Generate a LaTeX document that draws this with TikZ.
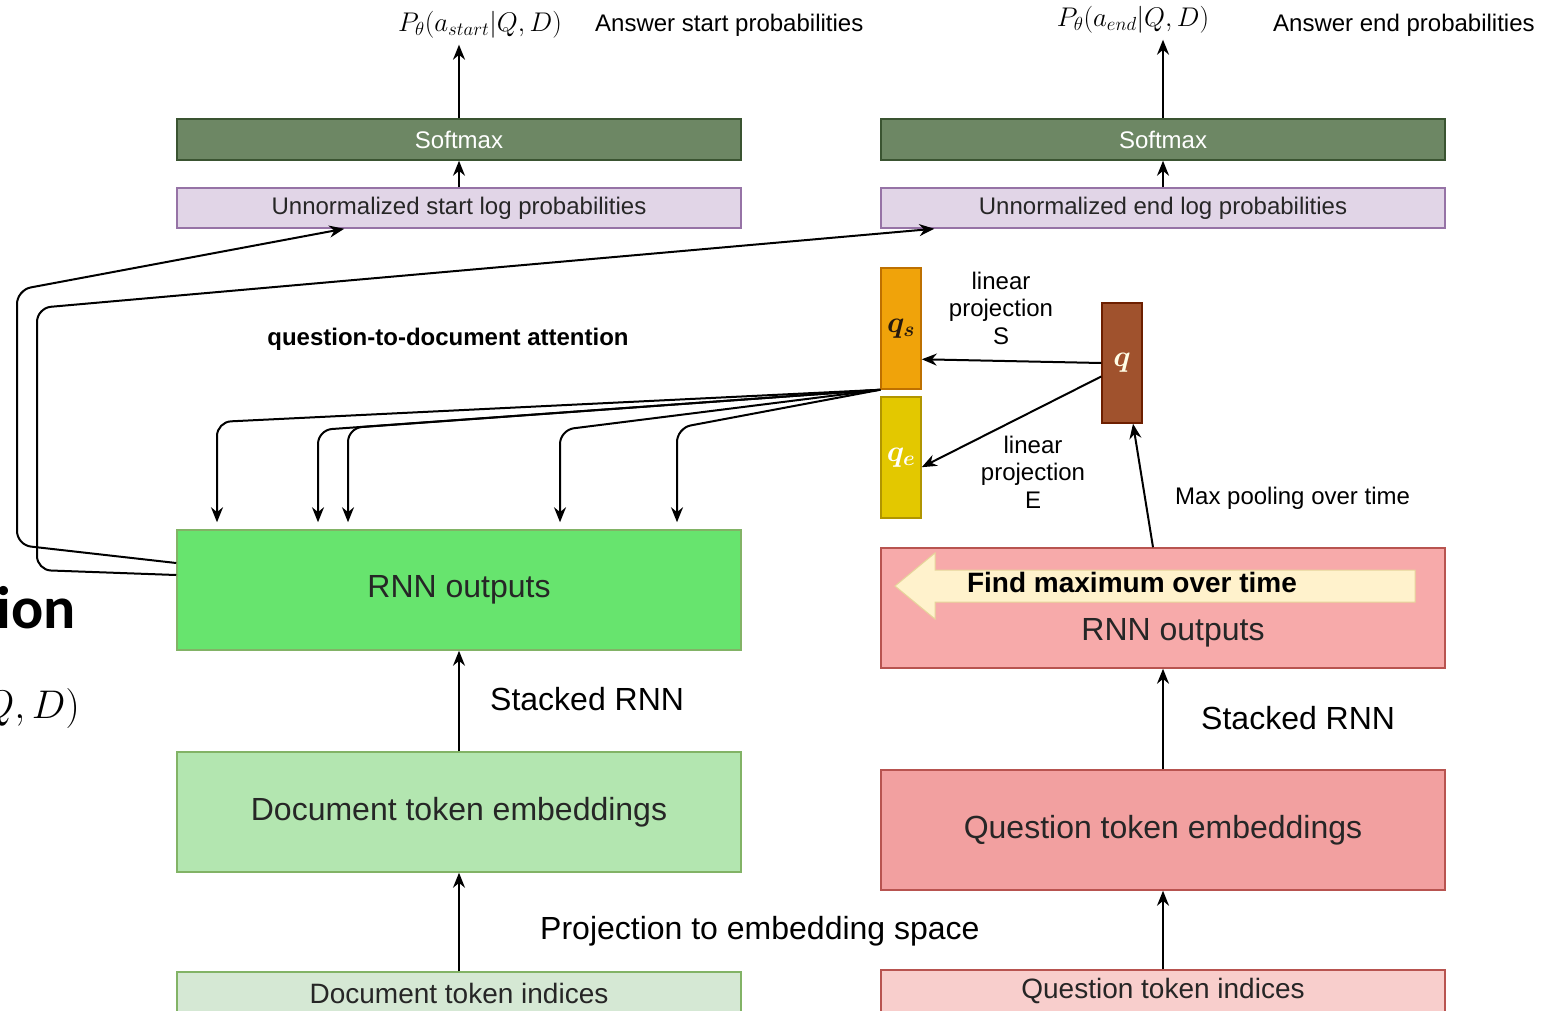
\documentclass[tikz,border=0pt]{standalone}
\usepackage{fix-cm}
\usepackage{fontspec}
\setmainfont{Liberation Sans}
\newfontfamily\slidefont{Carlito}
\usepackage{amsmath, amssymb}
\usepackage{tikz}
\usetikzlibrary{arrows.meta, positioning}
\definecolor{softfill}{HTML}{6D8764}
\definecolor{softline}{HTML}{3A5431}
\definecolor{logfill}{HTML}{E1D5E7}
\definecolor{logline}{HTML}{9673A6}
\definecolor{docline}{HTML}{82B366}
\definecolor{docout}{HTML}{67E46E}
\definecolor{docemb}{HTML}{B3E6B0}
\definecolor{docidx}{HTML}{D5E8D4}
\definecolor{qline}{HTML}{B85450}
\definecolor{qout}{HTML}{F7AAAA}
\definecolor{qemb}{HTML}{F2A0A0}
\definecolor{qidx}{HTML}{F8CECC}
\definecolor{qsfill}{HTML}{F0A30A}
\definecolor{qsline}{HTML}{BD7000}
\definecolor{qefill}{HTML}{E3C800}
\definecolor{qeline}{HTML}{B09500}
\definecolor{qfill}{HTML}{A0522D}
\definecolor{qvline}{HTML}{6D1F00}
\definecolor{findfill}{HTML}{FFF2CC}
\definecolor{findline}{HTML}{E6D49A}
\tikzset{
  layerbox/.style 2 args={rectangle, draw=#1, fill=#2, line width=1.5pt,
              minimum width=564pt, inner sep=0pt, text=black!85},
  vecbox/.style 2 args={rectangle, draw=#1, fill=#2, line width=1.5pt,
              minimum width=40pt, minimum height=121pt, inner sep=0pt,
              font=\fontsize{30}{34}\selectfont},
  arrow/.style={-{Stealth[length=15pt,width=12pt]}, line width=2pt},
  lbl/.style={font=\fontsize{24}{27.5}\selectfont, inner sep=0pt, align=center},
  midlbl/.style={font=\fontsize{28}{32}\selectfont, inner sep=0pt},
  biglbl/.style={font=\fontsize{32}{38}\selectfont, inner sep=0pt},
  mathlbl/.style={font=\fontsize{27}{30}\selectfont, inner sep=0pt},
}
\begin{document}
\begin{tikzpicture}[x=1pt, y=-1pt]
\useasboundingbox (0,0) rectangle (1565,1010);
% cut-off slide text on the left
\node[font=\slidefont\bfseries\fontsize{60}{70}\selectfont, anchor=base east, inner sep=0pt] (slidetitle) at (76,628) {ion};
\node[font=\fontsize{40}{48}\selectfont, anchor=base east, inner sep=0pt] (slidemath) at (80,718) {$Q,D)$};

% document side
\node[layerbox={softline}{softfill}, minimum height=41pt, lbl, text=white] (softL) at (459,139.5) {Softmax};
\node[layerbox={logline}{logfill}, minimum height=40pt, lbl] (unL) at (459,208) {Unnormalized start log probabilities};
\node[layerbox={docline}{docout}, minimum height=120pt, biglbl] (rnnL) at (459,590) {RNN outputs};
\node[layerbox={docline}{docemb}, minimum height=120pt, biglbl] (embL) at (459,812) {Document token embeddings};
\node[layerbox={docline}{docidx}, minimum height=42pt, midlbl] (idxL) at (459,993) {Document token indices};

% question side
\node[layerbox={softline}{softfill}, minimum height=41pt, lbl, text=white] (softR) at (1163,139.5) {Softmax};
\node[layerbox={logline}{logfill}, minimum height=40pt, lbl] (unR) at (1163,208) {Unnormalized end log probabilities};
\node[layerbox={qline}{qout}, minimum height=120pt] (rnnR) at (1163,608) {};
\draw[findline, fill=findfill, line width=1pt] (1415,570) -- (935,570) -- (935,553) -- (895,586)
  -- (935,619) -- (935,602) -- (1415,602) -- cycle;
\node[midlbl, font=\bfseries\fontsize{28}{32}\selectfont] (findtxt) at (1132,582) {Find maximum over time};
\node[biglbl, text=black!85] (rnnRtxt) at (1173,633) {RNN outputs};
\node[layerbox={qline}{qemb}, minimum height=120pt, biglbl] (embR) at (1163,830) {Question token embeddings};
\node[layerbox={qline}{qidx}, minimum height=42pt, midlbl] (idxR) at (1163,991) {Question token indices};

% question vectors
\node[vecbox={qsline}{qsfill}, text=black!80!brown] (qs) at (901,328.5) {$\boldsymbol{q_s}$};
\node[vecbox={qeline}{qefill}, text=white] (qe) at (901,457.5) {$\boldsymbol{q_e}$};
\node[vecbox={qvline}{qfill}, minimum height=120pt, text=white!90!yellow] (q) at (1122,363) {$\boldsymbol{q}$};

% outputs
\node[mathlbl] (PL) at (480,25) {$P_\theta(a_{start}|Q,D)$};
\node[mathlbl] (PR) at (1133,20) {$P_\theta(a_{end}|Q,D)$};
\node[lbl, anchor=west] (ansL) at (595,25) {Answer start probabilities};
\node[lbl, anchor=west] (ansR) at (1273,25) {Answer end probabilities};

% edge labels
\node[lbl, font=\bfseries\fontsize{24}{27.5}\selectfont] (attn) at (448,339) {question-to-document attention};
\node[lbl] (linS) at (1001,308) {linear\\projection\\S};
\node[lbl] (linE) at (1033,472) {linear\\projection\\E};
\node[lbl, anchor=west] (maxpool) at (1175,498) {Max pooling over time};
\node[biglbl, anchor=west] (stackL) at (490,699) {Stacked RNN};
\node[biglbl, anchor=west] (stackR) at (1201,718) {Stacked RNN};
\node[biglbl, anchor=west] (proj) at (540,931) {Projection to embedding space};

% vertical flow
\draw[arrow] (idxL) -- (embL);
\draw[arrow] (embL) -- (rnnL);
\draw[arrow] (unL) -- (softL);
\draw[arrow, shorten >=6pt] (softL.north) -- (softL.north |- PL.south);
\draw[arrow] (idxR) -- (embR);
\draw[arrow] (embR) -- (rnnR);
\draw[arrow] (unR) -- (softR);
\draw[arrow, shorten >=6pt] (softR.north) -- (softR.north |- PR.south);

% question vector and projections
\draw[arrow] ([xshift=-10pt]rnnR.north) -- ([xshift=11pt]q.south);
\draw[arrow] (q.west) -- (qs.-56);
\draw[arrow] (q.213) -- (qe.-25);

% attention onto the document outputs
\foreach \x/\y in {217/422, 318/430, 348/428, 560/430, 677/428}
  \draw[arrow, rounded corners=14pt, shorten >=7pt] (qs.south west) -- (\x,\y) -- (\x,0 |- rnnL.north);

% document outputs to the log probabilities
\draw[arrow, rounded corners=14pt] ([yshift=27pt]rnnL.west) -- (17,545) -- (17,290) -- ([xshift=168pt]unL.south west);
\draw[arrow, rounded corners=14pt] ([yshift=15pt]rnnL.west) -- (37,570) -- (37,308) -- ([xshift=54pt]unR.south west);
\end{tikzpicture}
\end{document}
